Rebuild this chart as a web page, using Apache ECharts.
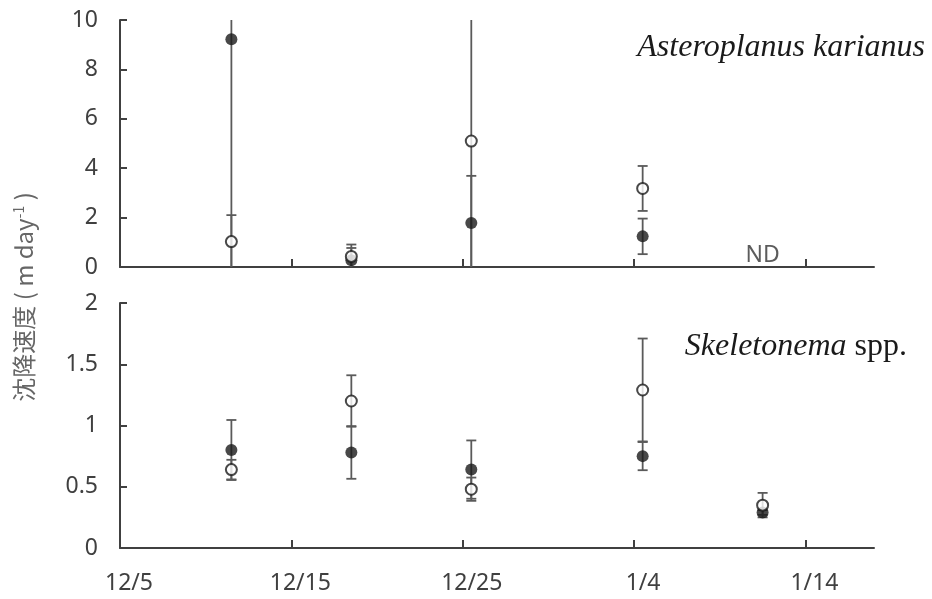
<!DOCTYPE html>
<html lang="ja">
<head>
    <meta charset="UTF-8">
    <title>沈降速度</title>
    <script src="https://cdn.jsdelivr.net/npm/echarts@6/dist/echarts.min.js"></script>
    <style>
        html, body { margin: 0; padding: 0; background: #fff; }
    </style>
</head>
<body>
    <div id="main" style="width:932px;height:599px;"></div>
    <script>
        // x: days after 12/5
        var xTickDays = [0, 10, 20, 30, 40];
        var xTickLabels = ['12/5', '12/15', '12/25', '1/4', '1/14'];
        var sampleDays = [6.5, 13.5, 20.5, 30.5, 37.5];

        // Asteroplanus karianus (上段) ... 5回目は ND
        var asterFilled = [9.22, 0.27, 1.78, 1.24, null];
        var asterFilledSd = [10.5, 0.50, 1.91, 0.72, null];
        var asterOpen = [1.03, 0.43, 5.10, 3.18, null];
        var asterOpenSd = [1.07, 0.48, 6.5, 0.91, null];

        // Skeletonema spp. (下段)
        var skelFilled = [0.80, 0.78, 0.64, 0.75, 0.29];
        var skelFilledSd = [0.245, 0.215, 0.238, 0.115, 0.02];
        var skelOpen = [0.64, 1.20, 0.48, 1.29, 0.35];
        var skelOpenSd = [0.08, 0.21, 0.095, 0.42, 0.10];

        var axisColor = '#404040';
        var labelFont = 'Noto Sans';

        function pts(vals) {
            var out = [];
            vals.forEach(function (v, i) {
                if (v != null) out.push([sampleDays[i], v]);
            });
            return out;
        }

        function bars(vals, sds) {
            var out = [];
            vals.forEach(function (v, i) {
                if (v != null) out.push([sampleDays[i], v - sds[i], v + sds[i]]);
            });
            return out;
        }

        // エラーバー (軸の範囲でクリップ、はみ出したらキャップなし)
        function renderErr(params, api) {
            var cs = params.coordSys;
            var top = cs.y, bottom = cs.y + cs.height;
            var p1 = api.coord([api.value(0), api.value(1)]);
            var p2 = api.coord([api.value(0), api.value(2)]);
            var x = p1[0];
            var yLo = Math.min(p1[1], bottom);
            var yHi = Math.max(p2[1], top);
            var style = { stroke: '#5a5a5a', lineWidth: 1.8 };
            var children = [{
                type: 'line',
                shape: { x1: x, y1: yLo, x2: x, y2: yHi },
                style: style
            }];
            var w = 5;
            if (p1[1] < bottom) {
                children.push({ type: 'line', shape: { x1: x - w, y1: p1[1], x2: x + w, y2: p1[1] }, style: style });
            }
            if (p2[1] > top) {
                children.push({ type: 'line', shape: { x1: x - w, y1: p2[1], x2: x + w, y2: p2[1] }, style: style });
            }
            return { type: 'group', children: children };
        }

        function xAxisOf(idx, showLabel) {
            return {
                type: 'value',
                gridIndex: idx,
                min: 0,
                max: 44,
                interval: 10,
                axisLine: { show: true, onZero: false, lineStyle: { color: axisColor, width: 2 } },
                axisTick: {
                    show: true, inside: true, length: 8,
                    customValues: [10, 20, 30, 40],
                    lineStyle: { color: axisColor, width: 2 }
                },
                splitLine: { show: false },
                axisLabel: {
                    show: showLabel,
                    customValues: xTickDays,
                    formatter: function (v) {
                        var k = xTickDays.indexOf(v);
                        return k >= 0 ? xTickLabels[k] : '';
                    },
                    fontFamily: labelFont,
                    fontSize: 23,
                    color: axisColor,
                    margin: 24,
                    padding: [0, 0, 0, 18]
                }
            };
        }

        function yAxisOf(idx, max, interval) {
            return {
                type: 'value',
                gridIndex: idx,
                min: 0,
                max: max,
                interval: interval,
                axisLine: { show: true, lineStyle: { color: axisColor, width: 2 } },
                axisTick: { show: true, inside: true, length: 7, lineStyle: { color: axisColor, width: 2 } },
                splitLine: { show: false },
                axisLabel: {
                    fontFamily: labelFont,
                    fontSize: 23,
                    color: axisColor,
                    margin: 22
                }
            };
        }

        var filledStyle = { color: '#1a1a1a' };
        var openStyle = { color: '#ffffff', borderColor: '#1a1a1a', borderWidth: 2 };

        var myChart = echarts.init(document.getElementById('main'));
        var option = {
            backgroundColor: '#ffffff',
            animation: false,
            grid: [
                { left: 120, right: 58, top: 20, height: 247 },
                { left: 120, right: 58, top: 303, height: 245 }
            ],
            xAxis: [xAxisOf(0, false), xAxisOf(1, true)],
            yAxis: [yAxisOf(0, 10, 2), yAxisOf(1, 2, 0.5)],
            graphic: [
                {
                    type: 'text',
                    x: 24, y: 297,
                    rotation: Math.PI / 2,
                    style: {
                        text: '{a|沈降速度 ( m day}{s|-1}{a| )}',
                        align: 'center',
                        verticalAlign: 'middle',
                        rich: {
                            a: { fontFamily: 'Noto Sans CJK JP', fontSize: 24, fill: '#666666' },
                            s: { fontFamily: 'Noto Sans CJK JP', fontSize: 14, fill: '#666666', verticalAlign: 'top' }
                        }
                    }
                },
                {
                    type: 'text',
                    x: 925, y: 48,
                    style: {
                        text: 'Asteroplanus karianus',
                        align: 'right',
                        verticalAlign: 'middle',
                        font: 'italic 32px "Liberation Serif"',
                        fill: '#1a1a1a'
                    }
                },
                {
                    type: 'text',
                    x: 907, y: 347,
                    style: {
                        text: '{i|Skeletonema}{r| spp.}',
                        align: 'right',
                        verticalAlign: 'middle',
                        rich: {
                            i: { fontFamily: 'Liberation Serif', fontStyle: 'italic', fontSize: 32, fill: '#1a1a1a' },
                            r: { fontFamily: 'Liberation Serif', fontSize: 32, fill: '#1a1a1a' }
                        }
                    }
                }
            ],
            series: [
                { type: 'custom', xAxisIndex: 0, yAxisIndex: 0, renderItem: renderErr, data: bars(asterFilled, asterFilledSd), z: 1 },
                { type: 'custom', xAxisIndex: 0, yAxisIndex: 0, renderItem: renderErr, data: bars(asterOpen, asterOpenSd), z: 1 },
                { type: 'custom', xAxisIndex: 1, yAxisIndex: 1, renderItem: renderErr, data: bars(skelFilled, skelFilledSd), z: 1 },
                { type: 'custom', xAxisIndex: 1, yAxisIndex: 1, renderItem: renderErr, data: bars(skelOpen, skelOpenSd), z: 1 },
                { type: 'scatter', xAxisIndex: 0, yAxisIndex: 0, symbol: 'circle', symbolSize: 12, itemStyle: filledStyle, data: pts(asterFilled), z: 3 },
                { type: 'scatter', xAxisIndex: 0, yAxisIndex: 0, symbol: 'circle', symbolSize: 11, itemStyle: openStyle, data: pts(asterOpen), z: 4 },
                { type: 'scatter', xAxisIndex: 1, yAxisIndex: 1, symbol: 'circle', symbolSize: 12, itemStyle: filledStyle, data: pts(skelFilled), z: 3 },
                { type: 'scatter', xAxisIndex: 1, yAxisIndex: 1, symbol: 'circle', symbolSize: 11, itemStyle: openStyle, data: pts(skelOpen), z: 4 },
                {
                    // ND (データなし)
                    type: 'scatter', xAxisIndex: 0, yAxisIndex: 0,
                    symbolSize: 1,
                    itemStyle: { color: 'rgba(0,0,0,0)' },
                    data: [[sampleDays[4], 0]],
                    label: {
                        show: true,
                        formatter: 'ND',
                        position: 'top',
                        distance: 0,
                        fontFamily: labelFont,
                        fontSize: 23,
                        color: '#333333'
                    },
                    z: 5
                }
            ]
        };
        myChart.setOption(option);
    </script>
</body>
</html>
